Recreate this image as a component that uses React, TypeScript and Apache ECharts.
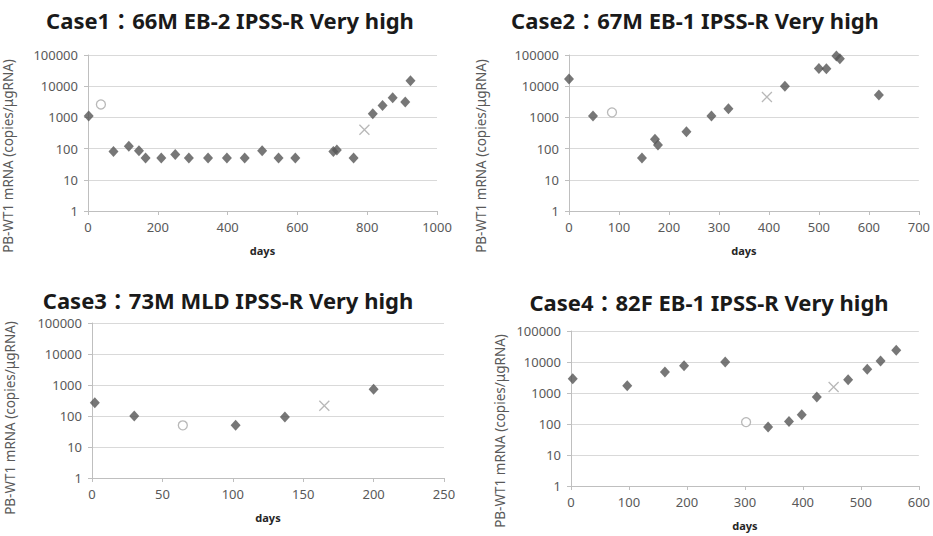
import React, { useEffect, useRef } from "react";
import * as echarts from "echarts";

const titles = [
  "Case1：66M EB-2 IPSS-R Very high",
  "Case2：67M EB-1 IPSS-R Very high",
  "Case3：73M MLD IPSS-R Very high",
  "Case4：82F EB-1 IPSS-R Very high",
];
const yAxisName = "PB-WT1 mRNA (copies/μgRNA)";
const xAxisName = "days";

const case1Days = [2, 73, 117, 146, 165, 210, 250, 289, 344, 398, 449, 499, 546, 594, 703, 713, 761, 816, 844, 873, 909, 924];
const case1Vals = [1100, 80, 120, 85, 50, 50, 65, 50, 50, 50, 50, 85, 50, 50, 80, 90, 50, 1300, 2400, 4300, 3100, 15000];
const case1CircleDays = [37];
const case1CircleVals = [2600];
const case1CrossDays = [792];
const case1CrossVals = [400];

const case2Days = [0, 48, 146, 172, 178, 235, 285, 319, 432, 500, 515, 535, 542, 620];
const case2Vals = [17000, 1100, 50, 200, 130, 350, 1100, 1900, 10000, 37000, 36000, 93000, 76000, 5200];
const case2CircleDays = [86];
const case2CircleVals = [1450];
const case2CrossDays = [396];
const case2CrossVals = [4500];

const case3Days = [2, 30, 102, 137, 200];
const case3Vals = [270, 100, 50, 93, 730];
const case3CircleDays = [64.5];
const case3CircleVals = [50];
const case3CrossDays = [165];
const case3CrossVals = [215];

const case4Days = [3, 97, 162, 195, 266, 340, 376, 398, 424, 478, 511, 534, 561];
const case4Vals = [2900, 1700, 4800, 7500, 10000, 80, 120, 200, 740, 2700, 5800, 10700, 24000];
const case4CircleDays = [302];
const case4CircleVals = [115];
const case4CrossDays = [453];
const case4CrossVals = [1560];

const xMaxes = [1000, 700, 250, 600];
const xIntervals = [200, 100, 50, 100];

const zip = (a: number[], b: number[]) => a.map((v, i) => [v, b[i]]);

const panels = [
  { d: zip(case1Days, case1Vals), c: zip(case1CircleDays, case1CircleVals), x: zip(case1CrossDays, case1CrossVals) },
  { d: zip(case2Days, case2Vals), c: zip(case2CircleDays, case2CircleVals), x: zip(case2CrossDays, case2CrossVals) },
  { d: zip(case3Days, case3Vals), c: zip(case3CircleDays, case3CircleVals), x: zip(case3CrossDays, case3CrossVals) },
  { d: zip(case4Days, case4Vals), c: zip(case4CircleDays, case4CircleVals), x: zip(case4CrossDays, case4CrossVals) },
];

const grids = [
  { left: 88, right: 496, top: 55, bottom: 325 },
  { left: 569, right: 13, top: 55, bottom: 325 },
  { left: 92, right: 489, top: 323, bottom: 58 },
  { left: 571, right: 10, top: 331, bottom: 50 },
];

const titlePos = [
  [230, 20],
  [695, 20],
  [228, 300],
  [709, 302],
];
const yNamePos = [
  [8, 156],
  [481, 156],
  [10, 418],
  [500, 431],
];

const FONT = "'Noto Sans', 'Noto Sans CJK JP', sans-serif";
const crossPath = "path://M0,0L10,10M10,0L0,10";

export default function App() {
  const ref = useRef<HTMLDivElement>(null);
  useEffect(() => {
    if (!ref.current) return;
    const chart = echarts.init(ref.current, undefined, { renderer: "svg" });
    const series: any[] = [];
    panels.forEach((p, i) => {
      series.push({
        type: "scatter",
        xAxisIndex: i,
        yAxisIndex: i,
        data: p.d,
        symbol: "diamond",
        symbolSize: [10, 11],
        itemStyle: { color: "#555555" },
      });
      series.push({
        type: "scatter",
        xAxisIndex: i,
        yAxisIndex: i,
        data: p.c,
        symbol: "circle",
        symbolSize: 9,
        itemStyle: { color: "#ffffff", borderColor: "#a6a6a6", borderWidth: 1.3 },
      });
      series.push({
        type: "scatter",
        xAxisIndex: i,
        yAxisIndex: i,
        data: p.x,
        symbol: crossPath,
        symbolSize: 10,
        itemStyle: { color: "none", borderColor: "#a6a6a6", borderWidth: 1.3 },
      });
    });

    const graphics: any[] = [];
    titles.forEach((t, i) => {
      graphics.push({
        type: "text",
        x: titlePos[i][0],
        y: titlePos[i][1],
        style: {
          text: t,
          font: `bold 22px ${FONT}`,
          fill: "#1a1a1a",
          textAlign: "center",
          textVerticalAlign: "middle",
          align: "center",
          verticalAlign: "middle",
        },
      });
      graphics.push({
        type: "text",
        x: yNamePos[i][0],
        y: yNamePos[i][1],
        rotation: Math.PI / 2,
        style: {
          text: yAxisName,
          font: `13.5px ${FONT}`,
          fill: "#595959",
          textAlign: "center",
          textVerticalAlign: "middle",
          align: "center",
          verticalAlign: "middle",
        },
      });
    });

    chart.setOption({
      animation: false,
      backgroundColor: "#ffffff",
      grid: grids,
      xAxis: grids.map((_, i) => ({
        type: "value",
        gridIndex: i,
        min: 0,
        max: xMaxes[i],
        interval: xIntervals[i],
        name: xAxisName,
        nameLocation: "middle",
        nameGap: 34,
        nameTextStyle: { fontFamily: FONT, fontSize: 11, fontWeight: "bold", color: "#262626" },
        axisLine: { show: true, lineStyle: { color: "#bfbfbf", width: 1 } },
        axisTick: { show: true, length: 4, lineStyle: { color: "#bfbfbf" } },
        axisLabel: {
          fontFamily: FONT,
          fontSize: 13,
          color: "#595959",
          margin: 9,
          formatter: (v: number) => String(v),
        },
        splitLine: { show: false },
      })),
      yAxis: grids.map((_, i) => ({
        type: "log",
        logBase: 10,
        gridIndex: i,
        min: 1,
        max: 100000,
        axisLine: { show: true, lineStyle: { color: "#bfbfbf", width: 1 } },
        axisTick: { show: true, length: 4, lineStyle: { color: "#bfbfbf" } },
        axisLabel: {
          fontFamily: FONT,
          fontSize: 13,
          color: "#595959",
          margin: 10,
          formatter: (v: number) => String(Math.round(v)),
        },
        splitLine: { show: true, lineStyle: { color: "#d9d9d9", width: 1 } },
      })),
      graphic: graphics,
      series,
    });
    return () => chart.dispose();
  }, []);
  return (
    <div
      ref={ref}
      style={{ position: "fixed", left: 0, top: 0, width: 933, height: 536 }}
    />
  );
}
